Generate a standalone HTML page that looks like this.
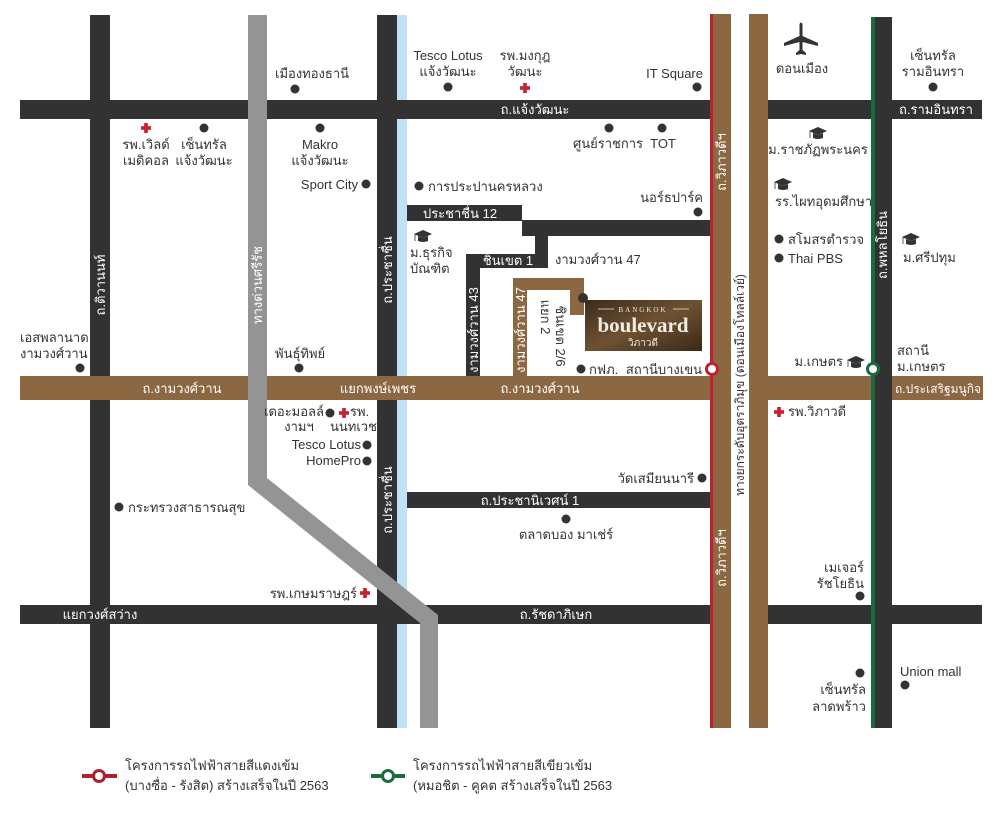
<!DOCTYPE html>
<html><head><meta charset="utf-8"><style>
html,body{margin:0;padding:0;background:#fff;}
svg{display:block;}
text{font-family:"Liberation Sans","Noto Sans CJK SC",sans-serif;font-size:13px;fill:#333;}
.w{fill:#fff;}
.c{text-anchor:middle;}
.e{text-anchor:end;}
</style></head><body>
<svg width="1000" height="816" viewBox="0 0 1000 816" xmlns="http://www.w3.org/2000/svg">
<defs>
<linearGradient id="bg" x1="0" y1="0" x2="1" y2="1">
<stop offset="0" stop-color="#3c2a1a"/><stop offset="0.5" stop-color="#6e5232"/><stop offset="1" stop-color="#3a2817"/>
</linearGradient>
<g id="cap"><path d="M-9,-3 L0,-7 L9,-3 L0,1 Z" fill="#333"/><path d="M-5,-1 L-5,4 Q0,6 5,4 L5,-1 L0,1 Z" fill="#333"/><path d="M-8,-3 L-8,4" stroke="#333" stroke-width="0.8"/></g>
<g id="cross"><rect x="-5" y="-1.8" width="10" height="3.6" fill="#c8202e"/><rect x="-1.8" y="-5" width="3.6" height="10" fill="#c8202e"/></g>
</defs>

<rect x="90" y="15" width="20" height="713" fill="#333233"/>
<rect x="377" y="15" width="20" height="713" fill="#333233"/>
<rect x="397" y="15" width="10" height="713" fill="#bfe3f6"/>
<rect x="20" y="100" width="962" height="19" fill="#333233"/>
<rect x="20" y="605" width="962" height="19" fill="#333233"/>
<rect x="407" y="205" width="115" height="16" fill="#333233"/>
<rect x="522" y="220" width="188" height="16" fill="#333233"/>
<rect x="535" y="220" width="13" height="46" fill="#333233"/>
<rect x="466" y="254" width="82" height="14" fill="#333233"/>
<rect x="466" y="254" width="14" height="122" fill="#333233"/>
<rect x="407" y="492" width="303" height="16" fill="#333233"/>
<path d="M513,376 L513,278 L584,278 L584,315 L570,315 L570,290 L527,290 L527,376 Z" fill="#8b6742"/>
<rect x="20" y="376" width="962" height="24" fill="#8b6742"/>
<rect x="872" y="17" width="20" height="711" fill="#333233"/>
<rect x="871" y="17" width="4" height="711" fill="#1a6b3e"/>
<rect x="711" y="14" width="20" height="714" fill="#8b6742"/>
<rect x="731" y="14" width="18" height="714" fill="#fff"/>
<rect x="749" y="14" width="19" height="714" fill="#8b6742"/>
<rect x="710" y="14" width="3" height="714" fill="#c01f2f"/>
<path d="M248,15 L267,15 L267,478 L438,615 L438,728 L420,728 L420,623 L248,485 Z" fill="#949494"/>
<rect x="892" y="100" width="83" height="19" fill="#333233"/>
<rect x="892" y="376" width="91" height="24" fill="#8b6742"/>

<text class="w c" x="535" y="114">ถ.แจ้งวัฒนะ</text>
<text class="w c" x="936" y="114">ถ.รามอินทรา</text>
<text class="w c" x="182" y="393">ถ.งามวงศ์วาน</text>
<text class="w c" x="378" y="393">แยกพงษ์เพชร</text>
<text class="w c" x="540" y="393">ถ.งามวงศ์วาน</text>
<text class="w c" x="938" y="393" style="font-size:12px">ถ.ประเสริฐมนูกิจ</text>
<text class="w c" x="100" y="619">แยกวงศ์สว่าง</text>
<text class="w c" x="556" y="619">ถ.รัชดาภิเษก</text>
<text class="w c" x="530" y="505">ถ.ประชานิเวศน์ 1</text>
<text class="w c" x="460" y="218">ประชาชื่น 12</text>
<text class="w c" x="508" y="265">ชินเขต 1</text>
<text class="w c" transform="translate(105,285) rotate(-90)">ถ.ติวานนท์</text>
<text class="w c" transform="translate(262,285) rotate(-90)">ทางด่วนศรีรัช</text>
<text class="w c" transform="translate(392,270) rotate(-90)">ถ.ประชาชื่น</text>
<text class="w c" transform="translate(392,500) rotate(-90)">ถ.ประชาชื่น</text>
<text class="w c" transform="translate(478,330) rotate(-90)">งามวงศ์วาน 43</text>
<text class="w c" transform="translate(525,330) rotate(-90)">งามวงศ์วาน 47</text>
<text class="w c" transform="translate(726,162) rotate(-90)">ถ.วิภาวดีฯ</text>
<text class="w c" transform="translate(726,558) rotate(-90)">ถ.วิภาวดีฯ</text>
<text class="c" transform="translate(744,385) rotate(-90)" style="font-size:12px">ทางยกระดับอุตราภิมุข (ดอนเมืองโทลล์เวย์)</text>
<text class="w c" transform="translate(887,245) rotate(-90)">ถ.พหลโยธิน</text>
<text class="c" transform="translate(556,336) rotate(90)">ชินเขต 2/6</text>
<text class="c" transform="translate(541,317) rotate(90)">แยก 2</text>

<circle cx="583" cy="298" r="5" fill="#333"/>
<rect x="585" y="300" width="117" height="51" fill="url(#bg)"/>
<line x1="598" y1="309" x2="614" y2="309" stroke="#e8dcc8" stroke-width="0.8"/>
<line x1="673" y1="309" x2="689" y2="309" stroke="#e8dcc8" stroke-width="0.8"/>
<text class="c" x="643" y="312" style="font-family:'Liberation Serif',serif;font-size:7px;fill:#eee;letter-spacing:2px">BANGKOK</text>
<text class="c" x="643" y="332" style="font-family:'Liberation Serif',serif;font-size:21px;font-weight:bold;fill:#f2ece2">boulevard</text>
<text class="c" x="643" y="346" style="font-size:10px;fill:#f2ece2">วิภาวดี</text>

<circle cx="712" cy="369" r="5.5" fill="#fff" stroke="#c01f2f" stroke-width="3"/>
<circle cx="873" cy="369" r="5.5" fill="#fff" stroke="#1a6b3e" stroke-width="3"/>

<g fill="#333">
<circle cx="295" cy="89" r="4.5"/><circle cx="448" cy="87" r="4.5"/><circle cx="697" cy="87" r="4.5"/>
<circle cx="204" cy="128" r="4.5"/><circle cx="320" cy="128" r="4.5"/><circle cx="366" cy="184" r="4.5"/>
<circle cx="609" cy="128" r="4.5"/><circle cx="662" cy="128" r="4.5"/><circle cx="419" cy="186" r="4.5"/>
<circle cx="698" cy="212" r="4.5"/><circle cx="80" cy="368" r="4.5"/><circle cx="299" cy="368" r="4.5"/>
<circle cx="581" cy="369" r="4.5"/><circle cx="330" cy="413" r="4.5"/><circle cx="367" cy="445" r="4.5"/>
<circle cx="367" cy="461" r="4.5"/><circle cx="119" cy="507" r="4.5"/><circle cx="702" cy="478" r="4.5"/>
<circle cx="566" cy="519" r="4.5"/><circle cx="933" cy="87" r="4.5"/><circle cx="779" cy="239" r="4.5"/>
<circle cx="779" cy="258" r="4.5"/><circle cx="860" cy="596" r="4.5"/><circle cx="860" cy="673" r="4.5"/>
<circle cx="905" cy="685" r="4.5"/>
</g>
<use href="#cross" x="525" y="88"/><use href="#cross" x="146" y="128"/><use href="#cross" x="344" y="413"/>
<use href="#cross" x="365" y="593"/><use href="#cross" x="779" y="412"/>
<use href="#cap" x="423" y="237"/><use href="#cap" x="818" y="134"/><use href="#cap" x="783" y="185"/>
<use href="#cap" x="911" y="240"/><use href="#cap" x="856" y="363"/>
<g transform="translate(801,40)" fill="#333">
<path d="M-1.5,-16 Q0,-19 1.5,-16 L1.5,-4 L17,3 L17,6 L1.5,2 L1.5,10 L5,13 L5,15 L0,14 L-5,15 L-5,13 L-1.5,10 L-1.5,2 L-17,6 L-17,3 L-1.5,-4 Z"/>
</g>

<text x="275" y="78">เมืองทองธานี</text>
<text class="c" x="448" y="60">Tesco Lotus</text><text class="c" x="448" y="76">แจ้งวัฒนะ</text>
<text class="c" x="525" y="60">รพ.มงกุฎ</text><text class="c" x="525" y="76">วัฒนะ</text>
<text class="e" x="703" y="78">IT Square</text>
<text class="c" x="146" y="149">รพ.เวิลด์</text><text class="c" x="146" y="165">เมดิคอล</text>
<text class="c" x="204" y="149">เซ็นทรัล</text><text class="c" x="204" y="165">แจ้งวัฒนะ</text>
<text class="c" x="320" y="149">Makro</text><text class="c" x="320" y="165">แจ้งวัฒนะ</text>
<text class="e" x="358" y="189">Sport City</text>
<text class="c" x="608" y="148">ศูนย์ราชการ</text><text class="c" x="663" y="148">TOT</text>
<text x="428" y="191">การประปานครหลวง</text>
<text class="e" x="703" y="202">นอร์ธปาร์ค</text>
<text x="410" y="257">ม.ธุรกิจ</text><text x="410" y="273">บัณฑิต</text>
<text x="555" y="264">งามวงศ์วาน 47</text>
<text x="20" y="342">เอสพลานาด</text><text x="20" y="358">งามวงศ์วาน</text>
<text x="275" y="358">พันธุ์ทิพย์</text>
<text x="589" y="374">กฟภ.</text>
<text class="e" x="702" y="374">สถานีบางเขน</text>
<text class="e" x="324" y="416">เดอะมอลล์</text><text x="350" y="416">รพ.</text>
<text class="c" x="299" y="431">งามฯ</text><text x="330" y="431">นนทเวช</text>
<text class="e" x="361" y="449">Tesco Lotus</text>
<text class="e" x="361" y="465">HomePro</text>
<text x="128" y="512">กระทรวงสาธารณสุข</text>
<text class="e" x="694" y="483">วัดเสมียนนารี</text>
<text class="c" x="566" y="539">ตลาดบอง มาเช่ร์</text>
<text class="e" x="357" y="598">รพ.เกษมราษฎร์</text>
<text class="c" x="802" y="73">ดอนเมือง</text>
<text class="c" x="933" y="60">เซ็นทรัล</text><text class="c" x="933" y="76">รามอินทรา</text>
<text class="c" x="818" y="154">ม.ราชภัฏพระนคร</text>
<text x="775" y="206">รร.ไผทอุดมศึกษา</text>
<text x="788" y="244">สโมสรตำรวจ</text><text x="788" y="263">Thai PBS</text>
<text x="903" y="262">ม.ศรีปทุม</text>
<text class="e" x="843" y="366">ม.เกษตร</text>
<text x="897" y="355">สถานี</text><text x="897" y="371">ม.เกษตร</text>
<text x="788" y="416">รพ.วิภาวดี</text>
<text class="e" x="864" y="572">เมเจอร์</text><text class="e" x="864" y="588">รัชโยธิน</text>
<text class="e" x="866" y="694">เซ็นทรัล</text><text class="e" x="866" y="711">ลาดพร้าว</text>
<text x="900" y="676">Union mall</text>

<line x1="82" y1="776" x2="117" y2="776" stroke="#b01f2f" stroke-width="4"/>
<circle cx="99" cy="776" r="5.5" fill="#fff" stroke="#b01f2f" stroke-width="3"/>
<text x="125" y="770">โครงการรถไฟฟ้าสายสีแดงเข้ม</text>
<text x="125" y="790">(บางซื่อ - รังสิต) สร้างเสร็จในปี 2563</text>
<line x1="371" y1="776" x2="405" y2="776" stroke="#1a6b3e" stroke-width="4"/>
<circle cx="388" cy="776" r="5.5" fill="#fff" stroke="#1a6b3e" stroke-width="3"/>
<text x="413" y="770">โครงการรถไฟฟ้าสายสีเขียวเข้ม</text>
<text x="413" y="790">(หมอชิต - คูคต สร้างเสร็จในปี 2563</text>
</svg>
</body></html>
